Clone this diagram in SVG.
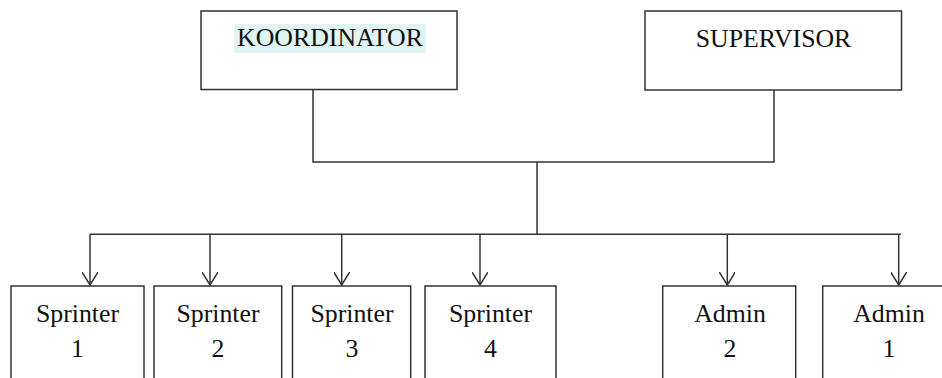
<svg xmlns="http://www.w3.org/2000/svg" width="942" height="378" viewBox="0 0 942 378">
<defs>
<style>
.box{fill:#fff;stroke:#333;stroke-width:1.5}
.t{font-family:"Liberation Serif","Times New Roman",serif;font-size:25.8px;fill:#111;text-anchor:middle}
.c{fill:none;stroke:#333;stroke-width:1.5}
</style>
<marker id="arr" viewBox="0 0 14 16" refX="13" refY="8" markerWidth="14" markerHeight="16" markerUnits="userSpaceOnUse" orient="auto">
<path d="M0,0 L13,8 L0,16" fill="none" stroke="#333" stroke-width="1.5"/>
</marker>
</defs>
<rect width="942" height="378" fill="#fff"/>
<g id="koordinator">
<rect class="box" x="201" y="11" width="256" height="78.5"/>
<rect x="234" y="24" width="192" height="29" fill="#E0F5F3"/>
<text class="t" x="330" y="46">KOORDINATOR</text>
</g>
<g id="supervisor">
<rect class="box" x="645" y="11" width="256.5" height="79"/>
<text class="t" x="773.5" y="47">SUPERVISOR</text>
</g>
<g id="connectors">
<polyline class="c" points="313,89.5 313,162 774,162 774,90"/>
<line class="c" x1="537" y1="162" x2="537" y2="234.3"/>
<line class="c" x1="90" y1="234.3" x2="901" y2="234.3"/>
<line class="c" x1="90" y1="234.3" x2="90" y2="285" marker-end="url(#arr)"/>
<line class="c" x1="210" y1="234.3" x2="210" y2="285" marker-end="url(#arr)"/>
<line class="c" x1="341.7" y1="234.3" x2="341.7" y2="285" marker-end="url(#arr)"/>
<line class="c" x1="480" y1="234.3" x2="480" y2="285" marker-end="url(#arr)"/>
<line class="c" x1="727.3" y1="234.3" x2="727.3" y2="285" marker-end="url(#arr)"/>
<line class="c" x1="898.7" y1="234.3" x2="898.7" y2="285" marker-end="url(#arr)"/>
</g>
<g id="sprinter1">
<rect class="box" x="11" y="286" width="133" height="110"/>
<text class="t" x="77.5" y="321.7">Sprinter</text>
<text class="t" x="77.5" y="357">1</text>
</g>
<g id="sprinter2">
<rect class="box" x="154" y="286" width="127.7" height="110"/>
<text class="t" x="218" y="321.7">Sprinter</text>
<text class="t" x="218" y="357">2</text>
</g>
<g id="sprinter3">
<rect class="box" x="292.5" y="286" width="118.2" height="110"/>
<text class="t" x="352" y="321.7">Sprinter</text>
<text class="t" x="352" y="357">3</text>
</g>
<g id="sprinter4">
<rect class="box" x="425" y="286" width="131" height="110"/>
<text class="t" x="490.5" y="321.7">Sprinter</text>
<text class="t" x="490.5" y="357">4</text>
</g>
<g id="admin2">
<rect class="box" x="662.7" y="286" width="133" height="110"/>
<text class="t" x="730" y="321.7">Admin</text>
<text class="t" x="730" y="357">2</text>
</g>
<g id="admin1">
<rect class="box" x="822.7" y="286" width="133" height="110"/>
<text class="t" x="889" y="321.7">Admin</text>
<text class="t" x="889" y="357">1</text>
</g>
</svg>
